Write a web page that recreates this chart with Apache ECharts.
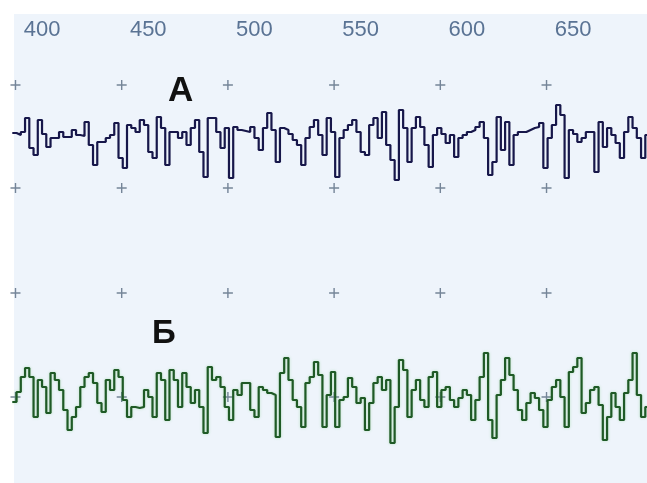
<!DOCTYPE html>
<html>
<head>
<meta charset="utf-8">
<script src="https://cdn.jsdelivr.net/npm/echarts@6/dist/echarts.min.js"></script>
<style>
  html, body { margin: 0; padding: 0; background: #ffffff; }
  #chart { width: 647px; height: 483px; }
</style>
</head>
<body>
<div id="chart"></div>
<script>
// sampling of both traces (x units of the top scale)
var sampleStart = 386;
var sampleStep = 2;

// scale labels along the top
var tickLabels = [400, 450, 500, 550, 600, 650];

// grid crosses
var crossX = [387.5, 437.5, 487.5, 537.5, 587.5, 637.5, 687.5];
var crossRows = [55, -48, -153, -257];

// trace А (upper, dark blue)
var traceA = [
  7, 5, 8, 22, -8, -15, 20, 6, -7, 2,
  2, 8, 3, 3, 10, 5, 4, 18, -5, -25,
  -2, -2, 2, 5, 17, -18, -28, 15, 12, 8,
  20, 15, -12, -18, 23, 12, -25, 8, 8, 2,
  8, -5, 12, 20, -12, -37, 22, 22, 8, -8,
  12, -38, 13, 10, 9, 8, 13, 2, -10, 12,
  27, 10, -22, 12, 10, 6, 0, -5, -25, 2,
  13, 20, 5, -15, 22, 8, -37, 2, 10, 15,
  20, 8, -12, -15, 15, 22, 2, 28, -5, -20,
  -40, 30, 12, -22, 12, 23, 13, -5, -27, 5,
  12, 6, -3, 5, -17, 2, 5, 8, 10, 13,
  18, 2, -35, -22, 23, -10, 18, -25, 5, 8,
  8, 10, 12, 13, 17, -28, 2, 15, 35, 25,
  -38, 10, 6, -2, 2, 8, 8, -32, 18, -7,
  12, 5, -3, -18, 8, 23, 12, 2, -18, 5,
  5
];

// trace Б (lower, green)
var traceB = [
  -7, 3, 18, 27, 18, -22, 15, 8, -18, 22,
  15, 5, -15, -35, -22, -12, 8, 18, 22, 12,
  -8, -17, 15, 5, 25, 18, -5, -22, -12, -13,
  -12, 5, -2, -22, 22, 15, -25, 25, 15, -12,
  22, 8, -8, 5, -12, -38, 28, 15, 18, 8,
  -12, -25, 5, 0, 12, 12, -15, -22, 8, 5,
  2, 0, -42, 22, 37, 15, -5, -12, -32, 12,
  18, 33, 20, -32, 0, 23, -32, -5, -2, 17,
  8, -8, -3, -35, -8, 12, 18, 5, 15, -48,
  -12, 35, 25, -22, 5, 15, -5, -12, 18, 23,
  -12, 5, 8, -5, -12, -3, 5, 0, -25, -5,
  18, 42, -25, -43, 0, 15, 37, 20, 5, -15,
  -25, -8, 2, -3, -15, -32, -5, 8, 15, -2,
  -32, 23, 28, 37, -18, -8, 5, 8, -10, -45,
  -22, 2, -12, -25, 2, 15, 42, 0, -22, -12,
  -12
];

function toPoints(values) {
  return values.map(function (v, i) { return [sampleStart + i * sampleStep, v]; });
}

var crosses = [];
crossRows.forEach(function (r) {
  crossX.forEach(function (x) { crosses.push([x, r]); });
});

var chart = echarts.init(document.getElementById('chart'));

chart.setOption({
  backgroundColor: '#ffffff',
  animation: false,
  grid: {
    left: 14, top: 14, right: 0, bottom: 0,
    show: true, backgroundColor: '#eef4fb', borderWidth: 0
  },
  xAxis: {
    type: 'value',
    position: 'top',
    min: 386.8,
    max: 684.8,
    axisLine: { show: false },
    axisTick: { show: false },
    splitLine: { show: false },
    axisLabel: {
      inside: true,
      margin: 16,
      verticalAlign: 'middle',
      color: '#5a7394',
      fontFamily: 'Liberation Sans',
      fontSize: 22,
      customValues: tickLabels
    }
  },
  yAxis: [
    { type: 'value', min: -343, max: 126, show: false },
    { type: 'value', min: -88, max: 381, show: false }
  ],
  graphic: [
    { type: 'text', left: 168, top: 74, style: { text: 'А', font: 'bold 35px "Liberation Sans"', fill: '#111111' } },
    { type: 'text', left: 152, top: 317, style: { text: 'Б', font: 'bold 33px "Liberation Sans"', fill: '#111111' } }
  ],
  series: [
    {
      type: 'scatter',
      yAxisIndex: 0,
      data: crosses,
      symbol: 'path://M4.3,0H5.7V10H4.3Z M0,4.3H10V5.7H0Z',
      symbolSize: 10,
      itemStyle: { color: '#56697f' },
      silent: true,
      z: 1
    },
    {
      type: 'line',
      yAxisIndex: 0,
      data: toPoints(traceA),
      step: 'end',
      showSymbol: false,
      lineStyle: { color: '#17174a', width: 2.2 },
      z: 3
    },
    {
      type: 'line',
      yAxisIndex: 1,
      data: toPoints(traceB),
      step: 'end',
      showSymbol: false,
      lineStyle: { color: '#1f5a26', width: 2.2, shadowColor: 'rgba(70,190,70,0.3)', shadowBlur: 3 },
      z: 3
    }
  ]
});
</script>
</body>
</html>
